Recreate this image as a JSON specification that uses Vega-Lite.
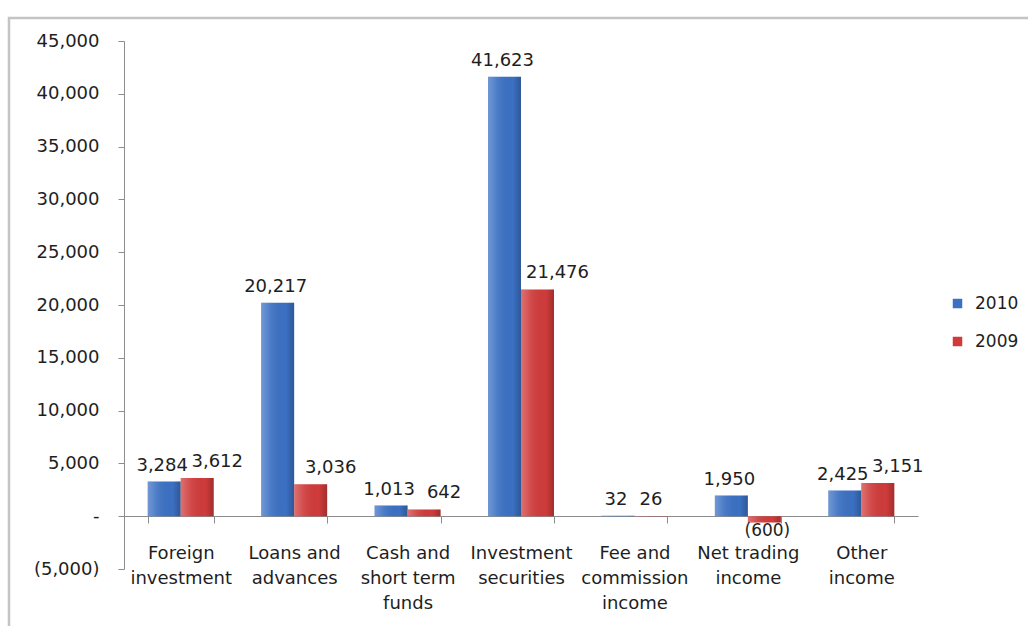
{
  "$schema": "https://vega.github.io/schema/vega-lite/v6.json",
  "autosize": {"type": "none"},
  "padding": {"left": 9, "top": 18, "right": 0, "bottom": 0},
  "width": 1030,
  "height": 620,
  "background": "white",
  "config": {
    "font": "DejaVu Sans",
    "view": {"stroke": "#c4c4c4", "strokeWidth": 2.5},
    "axis": {
      "domainColor": "#8c8c8c",
      "tickColor": "#8c8c8c",
      "labelColor": "#1e1e1e",
      "labelFont": "DejaVu Sans",
      "labelFontSize": 18,
      "grid": false,
      "title": null
    },
    "legend": {
      "labelFont": "DejaVu Sans",
      "labelFontSize": 17,
      "labelColor": "#1e1e1e"
    }
  },
  "data": {
    "values": [
      {"category": "Foreign investment", "year": "2010", "value": 3284},
      {"category": "Foreign investment", "year": "2009", "value": 3612},
      {"category": "Loans and advances", "year": "2010", "value": 20217},
      {"category": "Loans and advances", "year": "2009", "value": 3036},
      {"category": "Cash and short term funds", "year": "2010", "value": 1013},
      {"category": "Cash and short term funds", "year": "2009", "value": 642},
      {"category": "Investment securities", "year": "2010", "value": 41623},
      {"category": "Investment securities", "year": "2009", "value": 21476},
      {"category": "Fee and commission income", "year": "2010", "value": 32},
      {"category": "Fee and commission income", "year": "2009", "value": 26},
      {"category": "Net trading income", "year": "2010", "value": 1950},
      {"category": "Net trading income", "year": "2009", "value": -600},
      {"category": "Other income", "year": "2010", "value": 2425},
      {"category": "Other income", "year": "2009", "value": 3151}
    ]
  },
  "encoding": {
    "x": {
      "field": "category",
      "type": "nominal",
      "sort": null,
      "scale": {"range": [115, 909], "paddingInner": 0.418, "paddingOuter": 0.209},
      "axis": {
        "offset": -122,
        "tickBand": "extent",
        "tickSize": 7,
        "labelPadding": 21,
        "labelAngle": 0,
        "labelLineHeight": 25,
        "labelBaseline": "top",
        "labelExpr": "datum.value == 'Foreign investment' ? ['Foreign', 'investment'] : datum.value == 'Loans and advances' ? ['Loans and', 'advances'] : datum.value == 'Cash and short term funds' ? ['Cash and', 'short term', 'funds'] : datum.value == 'Investment securities' ? ['Investment', 'securities'] : datum.value == 'Fee and commission income' ? ['Fee and', 'commission', 'income'] : datum.value == 'Net trading income' ? ['Net trading', 'income'] : datum.value == 'Other income' ? ['Other', 'income'] : ''"
      }
    },
    "xOffset": {
      "field": "year",
      "type": "nominal",
      "sort": ["2010", "2009"],
      "scale": {"paddingInner": 0, "paddingOuter": 0}
    },
    "y": {
      "field": "value",
      "type": "quantitative",
      "scale": {"domain": [-5000, 45000], "range": [551, 23], "nice": false, "zero": false},
      "axis": {
        "offset": -115,
        "values": [-5000, 0, 5000, 10000, 15000, 20000, 25000, 30000, 35000, 40000, 45000],
        "format": "(,.0f",
        "labelExpr": "datum.value == 0 ? '-' : datum.label",
        "tickSize": 6,
        "labelPadding": 19
      }
    }
  },
  "layer": [
    {
      "mark": {"type": "bar"},
      "encoding": {
        "color": {
          "field": "year",
          "type": "nominal",
          "scale": {"domain": ["2010", "2009"], "range": ["#3b70c2", "#cf3b3b"]},
          "legend": {
            "title": null,
            "orient": "none",
            "legendX": 940,
            "legendY": 277,
            "symbolType": "square",
            "symbolSize": 90,
            "symbolStrokeWidth": 0,
            "rowPadding": 20,
            "labelOffset": 9,
            "padding": 0
          }
        }
      }
    },
    {
      "mark": {
        "type": "bar",
        "fill": {
          "gradient": "linear",
          "x1": 0, "y1": 0, "x2": 1, "y2": 0,
          "stops": [
            {"offset": 0, "color": "rgba(255,255,255,0.28)"},
            {"offset": 0.3, "color": "rgba(255,255,255,0.08)"},
            {"offset": 0.75, "color": "rgba(0,0,0,0.0)"},
            {"offset": 1, "color": "rgba(0,0,0,0.22)"}
          ]
        }
      },
      "encoding": {}
    },
    {
      "transform": [{"filter": "datum.year == '2010'"}],
      "mark": {"type": "text", "baseline": "bottom", "dy": -7, "dx": -2, "fontSize": 18, "color": "#1e1e1e"},
      "encoding": {"text": {"field": "value", "type": "quantitative", "format": "(,.0f"}}
    },
    {
      "transform": [{"filter": "datum.year == '2009' && datum.value >= 100"}],
      "mark": {"type": "text", "baseline": "bottom", "dy": -7, "dx": 20, "fontSize": 18, "color": "#1e1e1e"},
      "encoding": {"text": {"field": "value", "type": "quantitative", "format": "(,.0f"}}
    },
    {
      "transform": [{"filter": "datum.year == '2009' && datum.value >= 0 && datum.value < 100"}],
      "mark": {"type": "text", "baseline": "bottom", "dy": -7, "fontSize": 18, "color": "#1e1e1e"},
      "encoding": {"text": {"field": "value", "type": "quantitative", "format": "(,.0f"}}
    },
    {
      "transform": [{"filter": "datum.value < 0"}],
      "mark": {"type": "text", "baseline": "top", "dy": 0, "dx": 3, "fontSize": 17, "color": "#1e1e1e"},
      "encoding": {"text": {"field": "value", "type": "quantitative", "format": "(,.0f"}}
    }
  ]
}
